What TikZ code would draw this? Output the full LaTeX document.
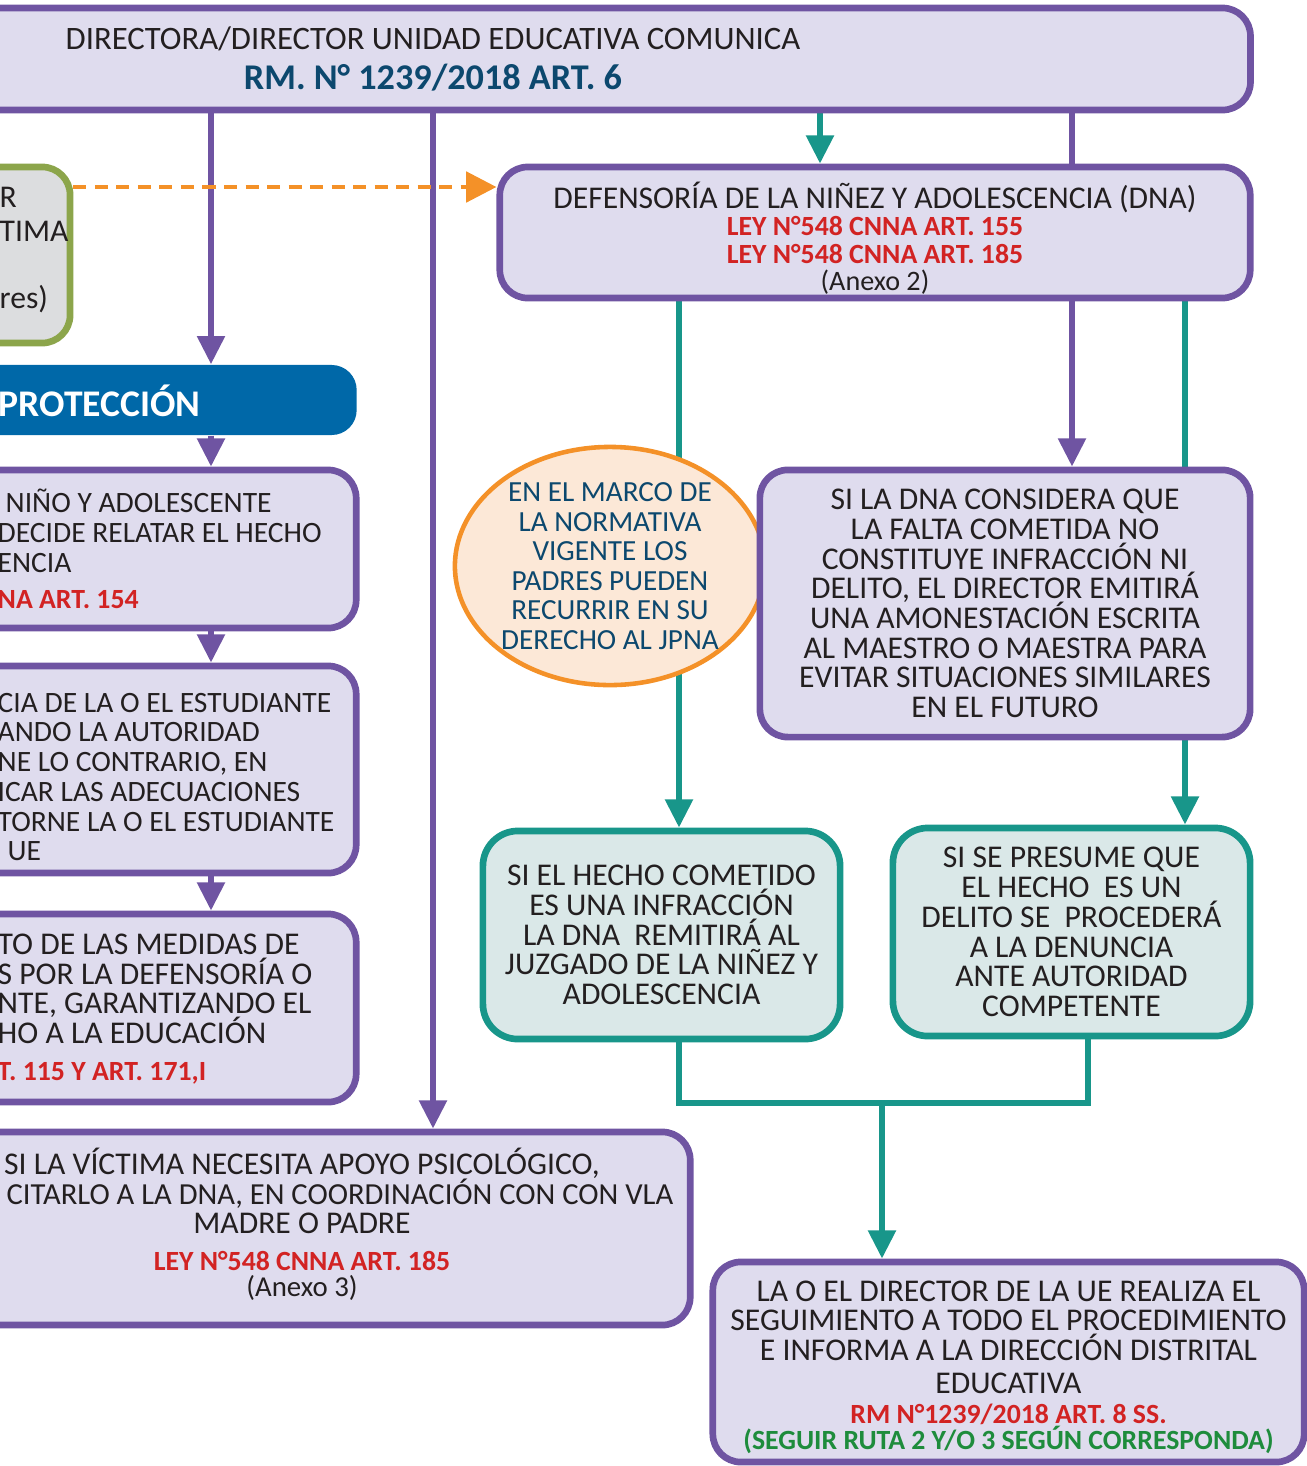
\documentclass[tikz,border=0pt]{standalone}
\usepackage{fontspec}
\setmainfont{Carlito}
\usepackage{xcolor}
\usepackage{tikz}
\usetikzlibrary{arrows.meta,positioning,calc,backgrounds,shapes.geometric}

\definecolor{boxpurple}{RGB}{111,84,162}
\definecolor{lilac}{RGB}{223,220,238}
\definecolor{dnateal}{RGB}{24,150,138}
\definecolor{mint}{RGB}{218,232,232}
\definecolor{jpnaorange}{RGB}{244,145,40}
\definecolor{peach}{RGB}{252,232,215}
\definecolor{leafgreen}{RGB}{140,165,75}
\definecolor{ashgrey}{RGB}{220,221,223}
\definecolor{protblue}{RGB}{0,104,168}
\definecolor{navyink}{RGB}{12,72,110}
\definecolor{lawred}{RGB}{210,35,35}
\definecolor{rutagreen}{RGB}{30,140,60}
\definecolor{ink}{RGB}{35,31,32}
\newcommand\tightlines{\lineskiplimit=-6pt\relax}

\begin{document}
\begin{tikzpicture}[x=0.01cm,y=-0.01cm,
  pbox/.style={draw=boxpurple,fill=lilac,line width=1.9pt,rounded corners=0.28cm,text=ink,align=center,inner sep=0pt},
  tbox/.style={draw=dnateal,fill=mint,line width=1.9pt,rounded corners=0.35cm,text=ink,align=center,inner sep=0pt},
  body/.style={font=\fontsize{9}{8.45}\selectfont\tightlines,text=ink},
  cuttext/.style={body,anchor=west,align=left,inner sep=0pt},
  pline/.style={draw=boxpurple,line width=1.7pt},
  tline/.style={draw=dnateal,line width=1.7pt},
  headed/.style={-{Triangle[width=7.6pt,length=8pt]}}]
 \useasboundingbox (0,0) rectangle (1307,1466);
 \clip (0,0) rectangle (1307,1466);
 % --- director ---
 \node[pbox,minimum width=16.34cm,minimum height=1.02cm,font=\fontsize{9.3}{11.4}\selectfont] (director) at (433,59)
   {DIRECTORA/DIRECTOR UNIDAD EDUCATIVA COMUNICA\\
    {\fontsize{10.3}{11.4}\selectfont\bfseries\color{navyink}RM. N° 1239/2018 ART. 6}};
 % --- left column (cut at the page edge) ---
 \node[draw=leafgreen,fill=ashgrey,line width=1.9pt,rounded corners=0.28cm,minimum width=2.7cm,minimum height=1.76cm] (denuncia) at (-65,255) {};
 \node[cuttext,font=\fontsize{9}{9.6}\selectfont] (denunciatxt) at (-1,250) {R\\TIMA\\ \\res)};
 \node[fill=protblue,rounded corners=0.25cm,minimum width=6.57cm,minimum height=0.7cm] (prot) at (28,400) {};
 \node[anchor=west,inner sep=0pt,text=white,font=\fontsize{10.7}{11}\selectfont\bfseries] (prottxt) at (-2,401) {PROTECCIÓN};
 \node[pbox,minimum width=6.56cm,minimum height=1.58cm] (relatar) at (28,549) {};
 \node[cuttext,font=\fontsize{8.4}{8.45}\selectfont\tightlines] (relatartxt) at (-3,549)
   {\hspace*{0.08cm}NIÑO Y ADOLESCENTE\\DECIDE RELATAR EL HECHO\\ENCIA\\[2pt]{\fontsize{7.9}{7.8}\selectfont\bfseries\color{lawred}NA ART. 154}};
 \node[pbox,minimum width=6.56cm,minimum height=2.07cm] (estudiante) at (28,769.5) {};
 \node[cuttext,font=\fontsize{8.4}{8.45}\selectfont\tightlines] (estudiantetxt) at (-3,777)
   {CIA DE LA O EL ESTUDIANTE\\ANDO LA AUTORIDAD\\NE LO CONTRARIO, EN\\ICAR LAS ADECUACIONES\\TORNE LA O EL ESTUDIANTE\\\hspace*{0.1cm}UE};
 \node[pbox,minimum width=6.56cm,minimum height=1.88cm] (medidas) at (28,1008) {};
 \node[cuttext] (medidastxt) at (-3,1009)
   {TO DE LAS MEDIDAS DE\\S POR LA DEFENSORÍA O\\NTE, GARANTIZANDO EL\\HO A LA EDUCACIÓN\\[2pt]{\fontsize{7.9}{7.8}\selectfont\bfseries\color{lawred}T. 115 Y ART. 171,I}};
 \node[pbox,body,minimum width=7.76cm,minimum height=1.93cm] (victima) at (302,1228.5)
   {SI LA VÍCTIMA NECESITA APOYO PSICOLÓGICO,\\
    \makebox[7.42cm][r]{\fontsize{8.7}{8.45}\selectfont CITARLO A LA DNA, EN COORDINACIÓN CON CON VLA}\\
    MADRE O PADRE\\[2pt]
    {\fontsize{7.9}{7.8}\selectfont\bfseries\color{lawred}LEY N°548 CNNA ART. 185}\\[-1pt]
    {\fontsize{8.2}{7.8}\selectfont(Anexo 3)}\\[-5pt]\mbox{}};
 % --- right column ---
 \node[pbox,minimum width=7.5cm,minimum height=1.31cm,font=\fontsize{9}{7.8}\selectfont\tightlines] (dna) at (875,232.5)
   {DEFENSORÍA DE LA NIÑEZ Y ADOLESCENCIA (DNA)\\
    {\fontsize{7.9}{7.8}\selectfont\bfseries\color{lawred}LEY N°548 CNNA ART. 155}\\
    {\fontsize{7.9}{7.8}\selectfont\bfseries\color{lawred}LEY N°548 CNNA ART. 185}\\
    {\fontsize{8}{7.8}\selectfont(Anexo 2)}\\[-10pt]\mbox{}};
 \node[ellipse,draw=jpnaorange,fill=peach,line width=1.3pt,minimum width=3.1cm,minimum height=2.38cm,
   inner xsep=0pt,inner ysep=-0.06cm,align=center,text=navyink,font=\fontsize{8.3}{8.4}\selectfont] (jpna) at (610,566)
   {EN EL MARCO DE\\LA NORMATIVA\\VIGENTE LOS\\PADRES PUEDEN\\RECURRIR EN SU\\DERECHO AL JPNA};
 \node[pbox,body,minimum width=4.9cm,minimum height=2.67cm] (considera) at (1005,603.5)
   {SI LA DNA CONSIDERA QUE\\LA FALTA COMETIDA NO\\CONSTITUYE INFRACCIÓN NI\\DELITO, EL DIRECTOR EMITIRÁ\\UNA AMONESTACIÓN ESCRITA\\AL MAESTRO O MAESTRA PARA\\EVITAR SITUACIONES SIMILARES\\EN EL FUTURO};
 \node[tbox,body,minimum width=3.57cm,minimum height=2.08cm] (infraccion) at (661.5,935)
   {SI EL HECHO COMETIDO\\ES UNA INFRACCIÓN\\LA DNA~ REMITIRÁ AL\\JUZGADO DE LA NIÑEZ Y\\ADOLESCENCIA};
 \node[tbox,body,minimum width=3.57cm,minimum height=2.08cm] (delito) at (1071.5,932)
   {SI SE PRESUME QUE\\EL HECHO~ ES UN\\DELITO SE~ PROCEDERÁ\\A LA DENUNCIA\\ANTE AUTORIDAD\\COMPETENTE};
 \node[pbox,body,minimum width=5.91cm,minimum height=2cm] (seguimiento) at (1008.5,1362)
   {LA O EL DIRECTOR DE LA UE REALIZA EL\\SEGUIMIENTO A TODO EL PROCEDIMIENTO\\E INFORMA A LA DIRECCIÓN DISTRITAL\\[1pt]EDUCATIVA\\
    {\fontsize{7.9}{7.8}\selectfont\bfseries\color{lawred}RM N°1239/2018 ART. 8 SS.}\\[-1pt]
    {\fontsize{7.9}{7.8}\selectfont\bfseries\color{rutagreen}(SEGUIR RUTA 2 Y/O 3 SEGÚN CORRESPONDA)}\\[-10.3pt]\mbox{}};
 % --- connectors ---
 \coordinate (xa) at (211,0);
 \coordinate (xb) at (433,0);
 \coordinate (xc) at (820,0);
 \coordinate (xd) at (1072,0);
 \coordinate (xe) at (679,0);
 \coordinate (xf) at (1185,0);
 \coordinate (xg) at (1088,0);
 \coordinate (dashy) at (0,187);
 \coordinate (join) at (882,1103);
 \begin{scope}[on background layer]
   \draw[pline,headed] (director.south -| xa) -- (prot.north -| xa);
   \foreach \from/\to in {prot/relatar,relatar/estudiante,estudiante/medidas}
     \draw[pline,headed] (\from.south -| xa) -- (\to.north -| xa);
   \draw[pline,headed] (director.south -| xb) -- (victima.north -| xb);
   \draw[tline,headed] (director.south -| xc) -- (dna.north -| xc);
   \draw[pline] (director.south -| xd) -- (dna.north -| xd);
   \draw[pline,headed] (dna.south -| xd) -- (considera.north -| xd);
   \draw[tline,headed] (dna.south -| xe) -- (infraccion.north -| xe);
   \draw[tline,headed] (dna.south -| xf) -- (delito.north -| xf);
   \draw[tline] (infraccion.south -| xe) |- (join) -| (delito.south -| xg);
   \draw[tline,headed] (join) -- (seguimiento.north -| join);
 \end{scope}
 \draw[jpnaorange,line width=1.2pt,dash pattern=on 1.3mm off 0.85mm,-{Triangle[width=8.6pt,length=8.6pt]}]
   (denuncia.east |- dashy) -- (dna.west |- dashy);
\end{tikzpicture}
\end{document}
